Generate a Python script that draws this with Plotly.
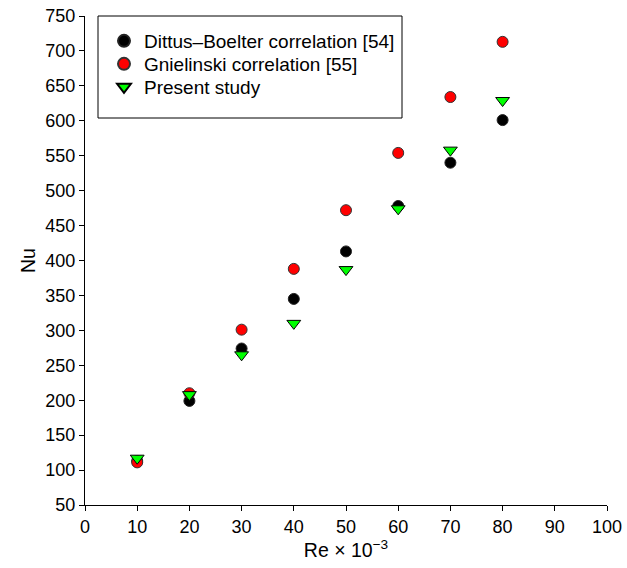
import plotly.graph_objects as go

re_vals = [10, 20, 30, 40, 50, 60, 70, 80]
nu_dittus = [113, 199, 274, 345, 413, 478, 540, 601]
nu_gnielinski = [111, 210, 301, 388, 472, 554, 634, 713]
nu_present = [117, 208, 265, 310, 387, 474, 558, 629]

font_family = "Liberation Sans, Arial, sans-serif"
L, R, T, B = 85, 20, 16, 63
W, H = 627, 568
pw, ph = W - L - R, H - T - B


def px_x(p):
    return (p - L) / pw


def px_y(p):
    return (H - B - p) / ph


fig = go.Figure()
fig.add_trace(go.Scatter(x=re_vals, y=nu_dittus, mode="markers",
                         name="Dittus\u2013Boelter correlation [54]", legend="legend",
                         marker=dict(symbol="circle", size=11, color="black",
                                     line=dict(color="#222", width=1))))
fig.add_trace(go.Scatter(x=re_vals, y=nu_gnielinski, mode="markers",
                         name="Gnielinski correlation [55]", legend="legend2",
                         marker=dict(symbol="circle", size=11, color="#ff0000",
                                     line=dict(color="#333", width=1))))
fig.add_trace(go.Scatter(x=re_vals, y=nu_present, mode="markers",
                         name="Present study", legend="legend3",
                         marker=dict(symbol="triangle-down", size=12, color="#00ff00",
                                     line=dict(color="black", width=1))))

fig.add_shape(type="rect", xref="paper", yref="paper",
              x0=px_x(98), x1=px_x(402), y0=px_y(118), y1=px_y(16),
              line=dict(color="black", width=1), fillcolor="rgba(0,0,0,0)", layer="below")


def leg(py):
    return dict(x=px_x(104), y=px_y(py), xanchor="left", yanchor="middle",
                borderwidth=0, bgcolor="rgba(0,0,0,0)",
                font=dict(size=19, family=font_family), itemsizing="constant")


fig.update_layout(
    width=W, height=H,
    margin=dict(l=L, r=R, t=T, b=B, autoexpand=False),
    plot_bgcolor="white", paper_bgcolor="white",
    font=dict(family=font_family, color="black", size=18),
    showlegend=True,
    legend=leg(41), legend2=leg(64), legend3=leg(87),
    xaxis=dict(range=[0, 100], tickmode="linear", tick0=0, dtick=10,
               showline=True, linecolor="black", linewidth=1,
               ticks="outside", ticklen=5, tickcolor="black",
               showgrid=False, zeroline=False, automargin=False,
               tickfont=dict(size=18),
               title=dict(text="Re \u00d7 10<sup>\u22123</sup>", font=dict(size=19.5), standoff=0)),
    yaxis=dict(range=[50, 750], tickmode="linear", tick0=50, dtick=50,
               showline=True, linecolor="black", linewidth=1,
               ticks="outside", ticklen=5, tickcolor="black",
               showgrid=False, zeroline=False, automargin=False,
               tickfont=dict(size=18),
               title=dict(text="Nu", font=dict(size=19.5), standoff=4)),
)
fig.write_html("out.html")
